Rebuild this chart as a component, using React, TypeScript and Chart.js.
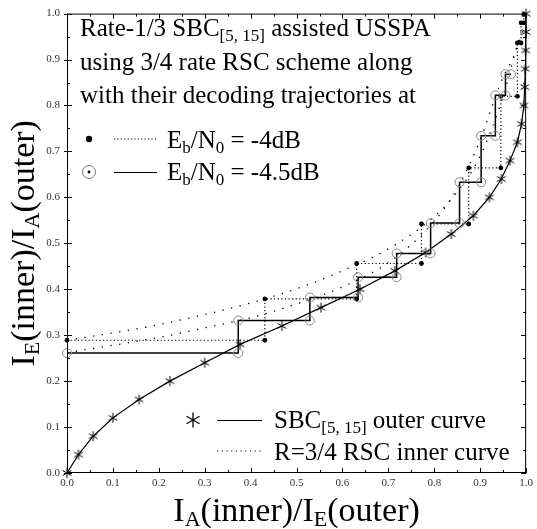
import React, { useEffect, useRef } from "react";
import { Chart, registerables } from "chart.js";

Chart.register(...registerables);

// ---- Data ----
// Outer curve (SBC[5,15]), solid with asterisks
const outerX = [0, 0.025, 0.057, 0.1, 0.157, 0.224, 0.3, 0.377, 0.468, 0.553, 0.638, 0.714, 0.781, 0.837, 0.885, 0.92, 0.946, 0.965, 0.981, 0.99, 0.995, 0.997, 0.998, 0.999, 1.0, 1.0];
const outerY = [0, 0.04, 0.08, 0.12, 0.16, 0.2, 0.24, 0.28, 0.32, 0.36, 0.4, 0.44, 0.48, 0.52, 0.56, 0.6, 0.64, 0.68, 0.72, 0.76, 0.8, 0.84, 0.88, 0.92, 0.96, 1.0];

// Inner curve at Eb/N0 = -4dB (dotted)
const inner4X = [0, 0.1, 0.2, 0.3, 0.4, 0.5, 0.6, 0.7, 0.8, 0.85, 0.9, 0.95, 0.98, 1.0];
const inner4Y = [0.289, 0.305, 0.323, 0.345, 0.37, 0.401, 0.44, 0.488, 0.558, 0.612, 0.69, 0.82, 0.93, 1.0];

// Inner curve at Eb/N0 = -4.5dB (dotted)
const inner45X = [0, 0.1, 0.2, 0.3, 0.4, 0.5, 0.6, 0.7, 0.8, 0.85, 0.9, 0.93, 0.95, 0.97, 1.0];
const inner45Y = [0.262, 0.278, 0.295, 0.316, 0.338, 0.368, 0.405, 0.458, 0.548, 0.62, 0.725, 0.81, 0.862, 0.9, 0.98];

// Decoding trajectory at -4dB (dotted, filled dots)
const traj4X = [0, 0.431, 0.431, 0.631, 0.631, 0.772, 0.772, 0.875, 0.875, 0.945, 0.945, 0.981, 0.981, 0.989, 0.989, 0.995, 0.995];
const traj4Y = [0.289, 0.289, 0.379, 0.379, 0.456, 0.456, 0.542, 0.542, 0.664, 0.664, 0.82, 0.82, 0.936, 0.936, 0.98, 0.98, 0.998];

// Decoding trajectory at -4.5dB (solid, open circles)
const traj45X = [0, 0.373, 0.373, 0.529, 0.529, 0.634, 0.634, 0.718, 0.718, 0.792, 0.792, 0.855, 0.855, 0.902, 0.902, 0.933, 0.933, 0.955, 0.955, 0.967];
const traj45Y = [0.261, 0.261, 0.332, 0.332, 0.382, 0.382, 0.426, 0.426, 0.478, 0.478, 0.544, 0.544, 0.633, 0.633, 0.734, 0.734, 0.822, 0.822, 0.868, 0.868];

const FONT = '"Liberation Serif", "Times New Roman", serif';

type Seg = [string, boolean?];

function font(size: number) {
  return `${size}px ${FONT}`;
}

function richWidth(ctx: CanvasRenderingContext2D, segs: Seg[], size: number, subSize: number) {
  let w = 0;
  for (const [t, sub] of segs) {
    ctx.font = font(sub ? subSize : size);
    w += ctx.measureText(t).width;
  }
  return w;
}

function drawRich(
  ctx: CanvasRenderingContext2D,
  segs: Seg[],
  x: number,
  y: number,
  size: number,
  subSize: number,
  subDrop: number,
  align: "left" | "center" = "left"
) {
  let cx = x;
  if (align === "center") cx = x - richWidth(ctx, segs, size, subSize) / 2;
  ctx.textAlign = "left";
  ctx.textBaseline = "alphabetic";
  ctx.fillStyle = "#000";
  for (const [t, sub] of segs) {
    ctx.font = font(sub ? subSize : size);
    ctx.fillText(t, cx, sub ? y + subDrop : y);
    cx += ctx.measureText(t).width;
  }
}

function drawAsterisk(ctx: CanvasRenderingContext2D, cx: number, cy: number, r: number, lw: number) {
  ctx.save();
  ctx.strokeStyle = "#000";
  ctx.lineWidth = lw;
  ctx.beginPath();
  for (const a of [90, 30, 150]) {
    const rad = (a * Math.PI) / 180;
    const dx = Math.cos(rad) * r;
    const dy = Math.sin(rad) * r;
    ctx.moveTo(cx - dx, cy - dy);
    ctx.lineTo(cx + dx, cy + dy);
  }
  ctx.stroke();
  ctx.restore();
}

function drawDotted(ctx: CanvasRenderingContext2D, x1: number, x2: number, y: number, dash: number[]) {
  ctx.save();
  ctx.strokeStyle = "#000";
  ctx.lineWidth = 1.2;
  ctx.setLineDash(dash);
  ctx.beginPath();
  ctx.moveTo(x1, y);
  ctx.lineTo(x2, y);
  ctx.stroke();
  ctx.restore();
}

const pts = (xs: number[], ys: number[]) => xs.map((x, i) => ({ x, y: ys[i] }));

const framePlugin = {
  id: "frameTicks",
  afterDatasetsDraw(chart: any) {
    const { ctx, chartArea } = chart;
    const { left, right, top, bottom } = chartArea;
    const xs = chart.scales.x;
    const ys = chart.scales.y;
    ctx.save();
    ctx.strokeStyle = "#000";
    ctx.lineWidth = 1;
    ctx.strokeRect(left + 0.5, top + 0.5, right - left - 1, bottom - top - 1);
    ctx.beginPath();
    for (let i = 0; i <= 20; i++) {
      const v = i / 20;
      const len = i % 2 === 0 ? 5 : 3;
      const px = Math.round(xs.getPixelForValue(v)) + 0.5;
      ctx.moveTo(px, bottom);
      ctx.lineTo(px, bottom - len);
      ctx.moveTo(px, top);
      ctx.lineTo(px, top + len);
      const py = Math.round(ys.getPixelForValue(v)) + 0.5;
      ctx.moveTo(left, py);
      ctx.lineTo(left + len, py);
      if (i % 2 === 0) {
        ctx.moveTo(left, py);
        ctx.lineTo(left - 3, py);
      }
      ctx.moveTo(right, py);
      ctx.lineTo(right - len, py);
    }
    ctx.stroke();
    ctx.restore();
  },
  afterDraw(chart: any) {
    const { ctx, chartArea } = chart;
    const midX = (chartArea.left + chartArea.right) / 2;
    const midY = (chartArea.top + chartArea.bottom) / 2;
    ctx.save();
    // Axis titles
    drawRich(ctx, [["I"], ["A", true], ["(inner)/I"], ["E", true], ["(outer)"]], midX, 521, 34, 22, 5, "center");
    ctx.save();
    ctx.translate(34, midY);
    ctx.rotate(-Math.PI / 2);
    drawRich(ctx, [["I"], ["E", true], ["(inner)/I"], ["A", true], ["(outer)"]], 0, 0, 34, 22, 5, "center");
    ctx.restore();

    // Top-left description
    drawRich(ctx, [["Rate-1/3 SBC"], ["[5, 15]", true], [" assisted USSPA"]], 80, 36, 25, 17, 5);
    drawRich(ctx, [["using 3/4 rate RSC scheme along"]], 80, 70, 25, 17, 5);
    drawRich(ctx, [["with their decoding trajectories at"]], 80, 103, 25, 17, 5);

    // Legend row: -4dB
    ctx.fillStyle = "#000";
    ctx.beginPath();
    ctx.arc(89, 139, 3.2, 0, Math.PI * 2);
    ctx.fill();
    drawDotted(ctx, 114, 157, 139, [1.2, 2.2]);
    drawRich(ctx, [["E"], ["b", true], ["/N"], ["0", true], [" = -4dB"]], 167, 148, 25, 17, 5);

    // Legend row: -4.5dB
    ctx.strokeStyle = "#777";
    ctx.lineWidth = 1;
    ctx.beginPath();
    ctx.arc(89, 172, 6.5, 0, Math.PI * 2);
    ctx.stroke();
    ctx.fillStyle = "#000";
    ctx.beginPath();
    ctx.arc(89, 172, 1.4, 0, Math.PI * 2);
    ctx.fill();
    ctx.strokeStyle = "#000";
    ctx.lineWidth = 1.2;
    ctx.beginPath();
    ctx.moveTo(114, 172.5);
    ctx.lineTo(157, 172.5);
    ctx.stroke();
    drawRich(ctx, [["E"], ["b", true], ["/N"], ["0", true], [" = -4.5dB"]], 167, 180, 25, 17, 5);

    // Bottom legend
    drawAsterisk(ctx, 193, 420, 7.5, 1.3);
    ctx.strokeStyle = "#000";
    ctx.lineWidth = 1.2;
    ctx.beginPath();
    ctx.moveTo(217, 420.5);
    ctx.lineTo(262, 420.5);
    ctx.stroke();
    drawRich(ctx, [["SBC"], ["[5, 15]", true], [" outer curve"]], 274, 428, 25, 17, 5);
    drawDotted(ctx, 217, 262, 451, [1.2, 3.5]);
    drawRich(ctx, [["R=3/4 RSC inner curve"]], 274, 460, 25, 17, 5);
    ctx.restore();
  },
};

export default function App() {
  const ref = useRef<HTMLCanvasElement | null>(null);

  useEffect(() => {
    const canvas = ref.current;
    if (!canvas) return;
    const star = document.createElement("canvas");
    star.width = 12;
    star.height = 12;
    const sctx = star.getContext("2d")!;
    drawAsterisk(sctx, 6, 6, 5, 1);

    const tickFont = { family: FONT, size: 11 };
    const chart = new Chart(canvas, {
      type: "scatter",
      data: {
        datasets: [
          {
            label: "-4.5dB trajectory",
            data: pts(traj45X, traj45Y),
            showLine: true,
            clip: false,
            borderColor: "#000",
            borderWidth: 1.5,
            pointStyle: "circle",
            pointRadius: 4.5,
            pointBorderColor: "#888",
            pointBorderWidth: 1,
            pointBackgroundColor: "rgba(0,0,0,0)",
            tension: 0,
          },
          {
            label: "-4dB trajectory",
            data: pts(traj4X, traj4Y),
            showLine: true,
            clip: false,
            borderColor: "#000",
            borderWidth: 1.2,
            borderDash: [1.2, 2.4],
            pointStyle: "circle",
            pointRadius: 2.4,
            pointBorderWidth: 0,
            pointBackgroundColor: "#000",
            tension: 0,
          },
          {
            label: "outer",
            data: pts(outerX, outerY),
            showLine: true,
            clip: false,
            borderColor: "#000",
            borderWidth: 1.2,
            pointStyle: star as any,
            pointRadius: 5,
            tension: 0,
          },
          {
            label: "inner -4dB",
            data: pts(inner4X, inner4Y),
            showLine: true,
            borderColor: "#000",
            borderWidth: 1.3,
            borderDash: [1.3, 7.5],
            pointRadius: 0,
            cubicInterpolationMode: "monotone",
          },
          {
            label: "inner -4.5dB",
            data: pts(inner45X, inner45Y),
            showLine: true,
            borderColor: "#000",
            borderWidth: 1.3,
            borderDash: [1.3, 7.5],
            pointRadius: 0,
            cubicInterpolationMode: "monotone",
          },
        ],
      },
      options: {
        animation: false,
        responsive: false,
        devicePixelRatio: 1,
        layout: { padding: { top: 9, right: 5, left: 0, bottom: 0 } },
        plugins: {
          legend: { display: false },
          tooltip: { enabled: false },
          title: { display: false },
        },
        scales: {
          x: {
            type: "linear",
            min: 0,
            max: 1,
            grid: { display: false, drawTicks: false },
            border: { display: false },
            ticks: {
              stepSize: 0.1,
              padding: 4,
              color: "#333",
              font: tickFont,
              maxRotation: 0,
              autoSkip: false,
              callback: (v: any) => Number(v).toFixed(1),
            },
            afterFit: (scale: any) => {
              scale.height = 56;
            },
          },
          y: {
            type: "linear",
            min: 0,
            max: 1,
            grid: { display: false, drawTicks: false },
            border: { display: false },
            ticks: {
              stepSize: 0.1,
              padding: 7,
              color: "#333",
              font: tickFont,
              autoSkip: false,
              callback: (v: any) => Number(v).toFixed(1),
            },
            afterFit: (scale: any) => {
              scale.width = 67;
            },
          },
        },
      },
      plugins: [framePlugin],
    } as any);
    return () => chart.destroy();
  }, []);

  return (
    <div style={{ position: "absolute", left: 0, top: 0, width: 537, height: 529, background: "#fff" }}>
      <canvas ref={ref} width={537} height={529} style={{ display: "block" }} />
    </div>
  );
}
